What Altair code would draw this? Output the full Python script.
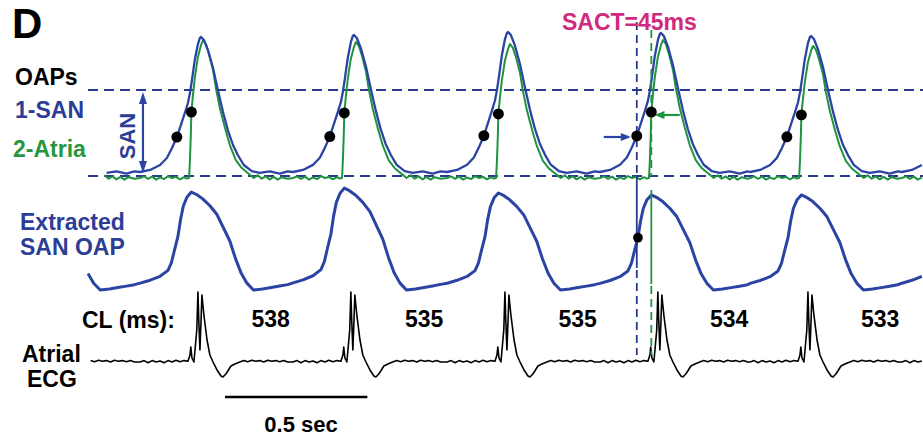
import altair as alt
import pandas as pd

# ---------------- data ----------------
# times (ms) of the atrial ECG spikes; first and last are the partial beats at the edges
beat_ms = [160, 698, 1235, 1776, 2313, 2840, 3373]
cl_labels = ["538", "535", "535", "534", "533"]

# per-beat amplitude factors (peak heights)
san_gain = [1.0, 1.0, 1.015, 1.037, 1.03, 1.007, 1.0]
atria_gain = [1.0, 1.0, 0.986, 0.971, 1.0, 0.957, 1.0]
ext_gain = [1.0, 1.01, 1.05, 1.0, 0.98, 0.98, 1.0]

# OAP 1 (SAN), time from ECG spike (ms) and normalised amplitude
san_t = [-210, -175, -140, -116, -98, -81, -67, -53, -42, -35, -28, -18, -7, 0, 4,
         14, 28, 46, 63, 81, 98, 116, 133, 154, 182, 210, 245, 280, 308]
san_a = [0.0, 0.015, 0.052, 0.104, 0.178, 0.259, 0.348, 0.437, 0.511, 0.585, 0.681, 0.83, 0.948, 0.993, 1.0,
         0.978, 0.904, 0.77, 0.607, 0.444, 0.311, 0.2, 0.126, 0.052, 0.007, -0.007, 0.004, -0.012, 0.005]

# OAP 2 (Atria)
atria_t = [-210, -196, -182, -168, -154, -140, -126, -112, -98, -84, -70, -56, -46, -38, -35, -32, -30,
           -25, -18, -7, 4, 11, 21, 32, 46, 56, 70, 88, 105, 126, 147, 168, 189, 203, 217, 231,
           245, 259, 273, 287, 308]
atria_a = [0.0, 0.012, -0.006, 0.01, -0.012, 0.004, -0.008, 0.014, 0.0, 0.008, -0.01, 0.006, -0.004, 0.0, 0.13, 0.31, 0.478,
           0.59, 0.725, 0.877, 0.964, 1.0, 0.971, 0.899, 0.783, 0.652, 0.507, 0.362, 0.239, 0.13, 0.072, 0.036, 0.0, 0.02, -0.005, 0.012,
           -0.01, 0.008, -0.012, 0.006, -0.006]

# Extracted SAN OAP
ext_t = [-210, -175, -140, -112, -100, -90, -77, -68, -58, -45, -30, -12, 10, 35, 60, 85, 105, 125,
         145, 165, 188, 220, 250, 280, 308]
ext_a = [0.07, 0.1, 0.14, 0.2, 0.28, 0.4, 0.55, 0.72, 0.86, 0.95, 1.0, 0.975, 0.93, 0.86, 0.77, 0.62, 0.5, 0.32,
         0.17, 0.07, 0.0, 0.01, 0.025, 0.04, 0.055]

# Atrial ECG
ecg_t = [-210, -196, -182, -168, -154, -140, -126, -112, -98, -84, -70, -56, -42, -35, -32, -28, -21,
         -11, -7, -4, 0, 4, 7, 14, 25, 35, 46, 60, 74, 81, 91, 98, 109, 123, 140, 154, 168, 182,
         196, 210, 224, 238, 252, 266, 280, 294, 308]
ecg_a = [0.0, 0.02, -0.01, 0.02, 0.0, 0.015, -0.01, 0.02, 0.0, 0.025, 0.005, 0.02, 0.01, 0.1, 0.214, 0.057, 0.0,
         0.457, 1.0, 0.6, 0.171, 0.6, 0.957, 0.671, 0.314, 0.1, 0.0, -0.114, -0.2, -0.214, -0.171, -0.129, -0.057, -0.029, 0.0, 0.02, 0.005, 0.025,
         0.01, 0.02, 0.0, 0.025, 0.01, 0.02, 0.005, 0.02, 0.0]

# activation markers (offset from ECG spike, ms; amplitude)
san_dot_dt, san_dot_a = -81, 0.259
atria_dot_dt, atria_dot_a = -30, 0.478
ext_dot_dt, ext_dot_a = -77, 0.55
sact_beat = 4           # beat used for the SACT measurement
sact_text = "SACT=45ms"
scale_bar_ms = 500
scale_bar_start = 786

# ---------------- layout (pixels) ----------------
W, H = 923, 439
X_DOMAIN = [-4, 3237]
TOP_START, LOW_START = 358, 305
SAN_BASE, SAN_H = 172, 135
ATR_BASE, ATR_H = 178, 138
EXT_BASE, EXT_H = 290, 97
ECG_BASE, ECG_H = 362, 70
DASH_Y = [90, 176]

BLUE = "#2b44a4"
BLUE_TXT = "#2c3d96"
DASH_BLUE = "#29398f"
GREEN = "#1f9440"
GREEN_TXT = "#27963f"
MAGENTA = "#cf2a7e"
FONT = "Liberation Sans"

xs = alt.Scale(domain=X_DOMAIN, nice=False, zero=False)
ys = alt.Scale(domain=[0, H], reverse=True, nice=False, zero=False)


def build(tt, aa, gains, base, height, t0):
    rows = []
    for T, g in zip(beat_ms, gains):
        for dt, a in zip(tt, aa):
            t = T + dt
            if t0 <= t <= X_DOMAIN[1]:
                rows.append((t, base - a * g * height))
    df = pd.DataFrame(rows, columns=["t", "y"]).sort_values("t")
    return df


def line(df, color, width):
    return alt.Chart(df).mark_line(color=color, strokeWidth=width, strokeJoin="round").encode(
        x=alt.X("t:Q", scale=xs, axis=None),
        y=alt.Y("y:Q", scale=ys, axis=None),
        order="t:Q",
    )


san_df = build(san_t, san_a, san_gain, SAN_BASE, SAN_H, TOP_START)
atr_df = build(atria_t, atria_a, atria_gain, ATR_BASE, ATR_H, TOP_START)
ext_df = build(ext_t, ext_a, ext_gain, EXT_BASE, EXT_H, LOW_START)
ecg_df = build(ecg_t, ecg_a, [1.0] * len(beat_ms), ECG_BASE, ECG_H, LOW_START)

vis = range(1, 6)
dots = pd.DataFrame({
    "t": [beat_ms[i] + san_dot_dt for i in vis] + [beat_ms[i] + atria_dot_dt for i in vis],
    "y": [SAN_BASE - san_dot_a * san_gain[i] * SAN_H for i in vis]
         + [ATR_BASE - atria_dot_a * atria_gain[i] * ATR_H for i in vis],
})
ext_dot = pd.DataFrame({"t": [beat_ms[sact_beat] + ext_dot_dt],
                        "y": [EXT_BASE - ext_dot_a * ext_gain[sact_beat] * EXT_H]})

t_san = beat_ms[sact_beat] + san_dot_dt
t_atr = beat_ms[sact_beat] + atria_dot_dt

# horizontal dashed reference lines
hd = pd.DataFrame({"t": [LOW_START] * 2, "t2": [X_DOMAIN[1]] * 2, "y": DASH_Y})
hdash = alt.Chart(hd).mark_rule(color=DASH_BLUE, strokeWidth=2.2, strokeDash=[10, 6]).encode(
    x=alt.X("t:Q", scale=xs, axis=None), x2="t2:Q", y=alt.Y("y:Q", scale=ys, axis=None))


def vseg(t, y1, y2, color, dash, width=1.8):
    d = pd.DataFrame({"t": [t], "y1": [y1], "y2": [y2]})
    kw = {"strokeDash": [8, 5]} if dash else {}
    return alt.Chart(d).mark_rule(color=color, strokeWidth=width, **kw).encode(
        x=alt.X("t:Q", scale=xs, axis=None), y=alt.Y("y1:Q", scale=ys, axis=None), y2="y2:Q")


vlines = [
    vseg(t_san, 22, 176, DASH_BLUE, True),
    vseg(t_san, 176, 268, DASH_BLUE, False),
    vseg(t_san, 270, 355, DASH_BLUE, True),
    vseg(t_atr, 30, 176, GREEN, True),
    vseg(t_atr, 190, 284, GREEN, False),
    vseg(t_atr, 286, 355, GREEN, True),
]


def hseg(t1, t2, y, color, width=2.2):
    d = pd.DataFrame({"t": [t1], "t2": [t2], "y": [y]})
    return alt.Chart(d).mark_rule(color=color, strokeWidth=width).encode(
        x=alt.X("t:Q", scale=xs, axis=None), x2="t2:Q", y=alt.Y("y:Q", scale=ys, axis=None))


def head(t, y, color, path, size=100):
    d = pd.DataFrame({"t": [t], "y": [y]})
    return alt.Chart(d).mark_point(shape=path, filled=True, color=color, size=size, opacity=1,
                                   strokeWidth=0).encode(
        x=alt.X("t:Q", scale=xs, axis=None), y=alt.Y("y:Q", scale=ys, axis=None))


RIGHT = "M0,0L-2,-0.8L-2,0.8Z"
LEFT = "M0,0L2,-0.8L2,0.8Z"
UP = "M0,0L-0.8,2.4L0.8,2.4Z"
DOWN = "M0,0L-0.8,-2.4L0.8,-2.4Z"

san_arrow_t = 498
arrows = [
    hseg(t_san - 116, t_san - 30, 137, BLUE),
    head(t_san - 21, 137, BLUE, RIGHT),
    hseg(t_atr + 100, t_atr + 25, 115, GREEN),
    head(t_atr + 11, 115, GREEN, LEFT),
    vseg(san_arrow_t, 100, 165, BLUE, False, 2.2),
    head(san_arrow_t, 92, BLUE, UP),
    head(san_arrow_t, 173, BLUE, DOWN),
]

dot_layer = alt.Chart(dots).mark_circle(color="black", size=120, opacity=1).encode(
    x=alt.X("t:Q", scale=xs, axis=None), y=alt.Y("y:Q", scale=ys, axis=None))
ext_dot_layer = alt.Chart(ext_dot).mark_circle(color="black", size=95, opacity=1).encode(
    x=alt.X("t:Q", scale=xs, axis=None), y=alt.Y("y:Q", scale=ys, axis=None))

# scale bar
bar = hseg(scale_bar_start, scale_bar_start + scale_bar_ms, 397, "black", 2.5)

# CL labels between beats
cl_df = pd.DataFrame({
    "t": [(beat_ms[i] + beat_ms[i + 1]) / 2 - 20 for i in range(1, 6)],
    "label": cl_labels,
})
cl_layer = alt.Chart(cl_df).mark_text(font=FONT, fontSize=23, fontWeight="bold", color="black",
                                      baseline="alphabetic", align="center").encode(
    x=alt.X("t:Q", scale=xs, axis=None), y=alt.value(327), text="label:N")


def label(text, x, y, color, size=23, align="left", angle=None):
    kw = {"angle": angle} if angle is not None else {}
    return alt.Chart(pd.DataFrame({"v": [0]})).mark_text(
        text=text, font=FONT, fontSize=size, fontWeight="bold", color=color,
        align=align, baseline="alphabetic", **kw).encode(x=alt.value(x), y=alt.value(y))


texts = [
    label("D", 12, 38, "black", 42),
    label("OAPs", 15, 85, "black"),
    label("1-SAN", 15, 118, BLUE_TXT),
    label("2-Atria", 13, 157, GREEN_TXT),
    label("Extracted", 20, 230, BLUE_TXT),
    label("SAN OAP", 20, 255, BLUE_TXT),
    label("CL (ms):", 82, 328, "black"),
    label("Atrial", 22, 362, "black"),
    label("ECG", 27, 387, "black"),
    label(sact_text, 562, 30, MAGENTA),
    label("0.5 sec", 301, 432, "black", 22, align="center"),
    label("SAN", 135, 136, BLUE_TXT, 22, align="center", angle=270),
]

chart = alt.layer(
    hdash,
    line(atr_df, GREEN, 2.0),
    line(san_df, BLUE, 2.3),
    line(ext_df, BLUE, 3.0),
    line(ecg_df, "black", 1.6),
    *vlines,
    *arrows,
    dot_layer,
    ext_dot_layer,
    bar,
    cl_layer,
    *texts,
).properties(
    width=W, height=H, padding=0, background="white",
    autosize=alt.AutoSizeParams(type="none"),
).configure_view(stroke=None)

chart.save("out.html", embed_options={"renderer": "svg", "actions": False})
